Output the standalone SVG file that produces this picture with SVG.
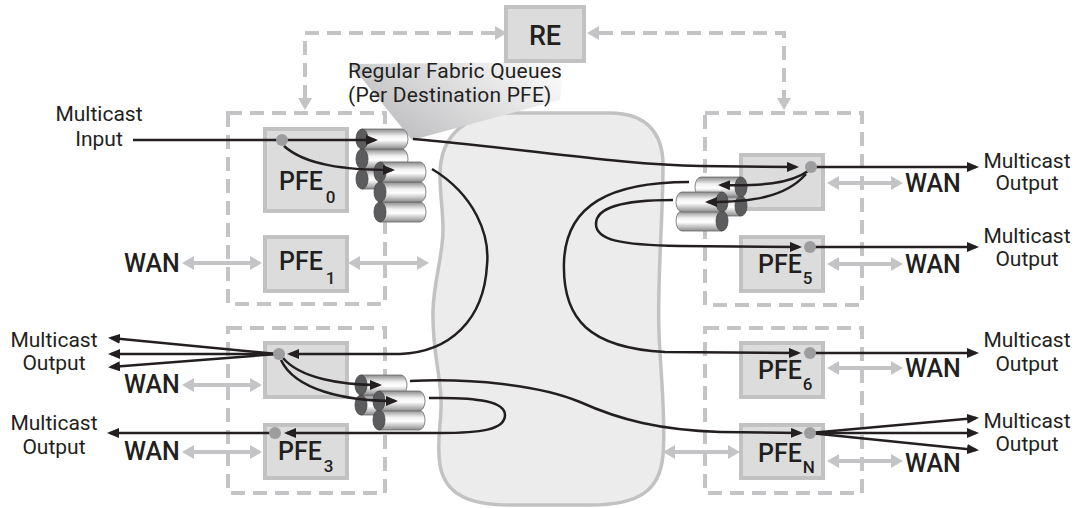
<svg xmlns="http://www.w3.org/2000/svg" width="1082" height="508" viewBox="0 0 1082 508">
<style>
.t{font-family:Roboto,"Liberation Sans",sans-serif;fill:#231f20}
.lbl{font-size:21px;text-anchor:middle}
.q{font-size:21px;letter-spacing:0.2px}
.wan{font-size:25px;font-weight:500}
.pfe{font-size:25px;font-weight:500}
.sub{font-size:17px}
.dash{fill:none;stroke:#c4c4c6;stroke-width:4;stroke-dasharray:14 8}
.ghd{fill:#c4c4c6}
.box{fill:#dcdcdd;stroke:#c2c2c3;stroke-width:4}
.ga{stroke:#c4c4c6;stroke-width:4;fill:none;marker-start:url(#gh);marker-end:url(#gh)}
.bl{stroke:#231f20;stroke-width:2.5;fill:none}
.ar{marker-end:url(#ah)}
.dot{fill:#9d9d9f}
.cb{fill:url(#cylg);stroke:#6a6a6a;stroke-width:0.8}
.cc{fill:#5c5c5e;stroke:#444;stroke-width:0.8}
</style>
<defs>
<marker id="ah" viewBox="0 0 12 10" refX="9" refY="5" markerWidth="12" markerHeight="10" markerUnits="userSpaceOnUse" orient="auto"><path d="M0,0 L12,5 L0,10 Z" fill="#231f20"/></marker>
<marker id="gh" viewBox="0 0 12 14" refX="8" refY="7" markerWidth="12" markerHeight="14" markerUnits="userSpaceOnUse" orient="auto-start-reverse"><path d="M0,0 L12,7 L0,14 Z" fill="#c4c4c6"/></marker>
<linearGradient id="cylg" x1="0" y1="0" x2="0" y2="1">
<stop offset="0" stop-color="#8a8a8c"/><stop offset="0.35" stop-color="#f0f0f0"/><stop offset="0.55" stop-color="#ffffff"/><stop offset="1" stop-color="#8c8c8e"/>
</linearGradient>
<linearGradient id="wedge" x1="0" y1="0.5" x2="1" y2="0">
<stop offset="0" stop-color="#bfbfc1"/><stop offset="0.6" stop-color="#e6e6e7"/><stop offset="1" stop-color="#ffffff"/>
</linearGradient>
<g id="cylL"><path class="cb" d="M6,0 H46 A6,10 0 0 1 46,20 H6 Z"/><ellipse class="cc" cx="6" cy="10" rx="6" ry="10"/></g>
<g id="cylR"><path class="cb" d="M6,0 H46 V20 H6 A6,10 0 0 1 6,0 Z"/><ellipse class="cc" cx="46" cy="10" rx="6" ry="10"/></g>
</defs>
<rect width="1082" height="508" fill="#ffffff"/>

<g id="fabric">
<path d="M 440,175 C 440,135 465,114 510,113 L 610,113 C 648,113 663,135 663,165 C 663,220 657,280 659,333 C 661,380 666,420 663,455 C 660,490 640,505 590,505 L 510,505 C 470,505 445,495 440,465 C 436,440 442,420 441,400 C 440,370 432,350 433,310 C 434,280 443,255 443,230 C 443,210 440,195 440,175 Z" fill="#ececed" stroke="#c2c2c3" stroke-width="3.5"/>
</g>

<g id="callout">
<polygon points="350,64 565,62 560,100 412,140" fill="url(#wedge)"/>
<text class="t q" x="348" y="78">Regular Fabric Queues</text>
<text class="t q" x="348" y="102">(Per Destination PFE)</text>
</g>

<g id="re-links">
<path class="dash" d="M 495,33 H 305 V 98"/>
<polygon class="ghd" points="495,26 507,33 495,40"/>
<polygon class="ghd" points="298,98 305,110 312,98"/>
<path class="dash" d="M 599,33 H 784 V 98"/>
<polygon class="ghd" points="599,26 587,33 599,40"/>
<polygon class="ghd" points="777,98 784,110 791,98"/>
</g>

<g id="re"><rect class="box" x="506" y="7" width="78" height="54" fill="#d2d2d3"/><text class="t" x="545" y="45" font-size="27" font-weight="500" text-anchor="middle">RE</text></g>

<g id="groups">
<rect class="dash" x="228" y="113" width="157" height="191"/>
<rect class="dash" x="228" y="328" width="157" height="165"/>
<rect class="dash" x="705" y="113" width="157" height="192"/>
<rect class="dash" x="705" y="328" width="157" height="165"/>
</g>

<g id="pfe0"><rect class="box" x="265" y="129" width="82" height="82"/><text class="t pfe" x="279" y="190">PFE<tspan class="sub" dx="3" dy="13">0</tspan></text></g>
<g id="pfe1"><rect class="box" x="265" y="237" width="82" height="54"/><text class="t pfe" x="279" y="270">PFE<tspan class="sub" dx="3" dy="14">1</tspan></text></g>
<g id="pfe2"><rect class="box" x="265" y="343" width="82" height="54"/></g>
<g id="pfe3"><rect class="box" x="265" y="425" width="82" height="53"/><text class="t pfe" x="278" y="460">PFE<tspan class="sub" dx="2" dy="12">3</tspan></text></g>
<g id="pfe4"><rect class="box" x="741" y="155" width="82" height="54"/></g>
<g id="pfe5"><rect class="box" x="741" y="237" width="82" height="54"/><text class="t pfe" x="758" y="273">PFE<tspan class="sub" dx="1" dy="11">5</tspan></text></g>
<g id="pfe6"><rect class="box" x="741" y="343" width="82" height="54"/><text class="t pfe" x="758" y="379">PFE<tspan class="sub" dx="1" dy="11">6</tspan></text></g>
<g id="pfeN"><rect class="box" x="741" y="425" width="82" height="53"/><text class="t pfe" x="758" y="462">PFE<tspan class="sub" dx="1" dy="11">N</tspan></text></g>

<g id="wan-links">
<line class="ga" x1="186" y1="263" x2="258" y2="263"/>
<line class="ga" x1="352" y1="263" x2="425" y2="263"/>
<line class="ga" x1="186" y1="385" x2="258" y2="385"/>
<line class="ga" x1="186" y1="452" x2="258" y2="452"/>
<line class="ga" x1="831" y1="183" x2="899" y2="183"/>
<line class="ga" x1="831" y1="264" x2="899" y2="264"/>
<line class="ga" x1="831" y1="368" x2="899" y2="368"/>
<line class="ga" x1="831" y1="461" x2="899" y2="461"/>
<line class="ga" x1="667" y1="452" x2="736" y2="452"/>
</g>

<g id="wan-labels">
<text class="t wan" x="124" y="272">WAN</text>
<text class="t wan" x="124" y="393">WAN</text>
<text class="t wan" x="124" y="460">WAN</text>
<text class="t wan" x="905" y="192">WAN</text>
<text class="t wan" x="905" y="273">WAN</text>
<text class="t wan" x="905" y="377">WAN</text>
<text class="t wan" x="905" y="472">WAN</text>
</g>

<g id="queues-pfe0">
<use href="#cylL" x="356" y="169"/><use href="#cylL" x="356" y="149"/><use href="#cylL" x="356" y="129"/>
<use href="#cylL" x="374" y="202"/><use href="#cylL" x="374" y="182"/><use href="#cylL" x="374" y="162"/>
</g>
<g id="queues-pfe2">
<use href="#cylL" x="355" y="395"/><use href="#cylL" x="355" y="375"/>
<use href="#cylL" x="373" y="410"/><use href="#cylL" x="373" y="391"/>
</g>
<g id="queues-pfe4">
<use href="#cylR" x="695" y="196"/><use href="#cylR" x="695" y="177"/>
<use href="#cylR" x="676" y="211"/><use href="#cylR" x="676" y="192"/>
</g>

<g id="connectors">
<path class="bl ar" d="M 133,140 H 375"/>
<path class="bl ar" d="M 284,146 C 305,165 345,170 392,170"/>
<path class="bl ar" d="M 413,139 C 520,148 620,165 700,166 L 796,167"/>
<path class="bl ar" d="M 432,169 C 475,195 490,235 487,265 C 484,320 450,352 400,354 L 290,354"/>
<path class="bl ar" d="M 283,358 C 300,378 340,385 379,385"/>
<path class="bl ar" d="M 281,360 C 295,390 345,401 395,401"/>
<path class="bl ar" d="M 410,381 C 470,378 540,385 580,402 C 620,420 660,430 720,432 L 800,433"/>
<path class="bl ar" d="M 429,398 C 480,397 505,402 505,415 C 505,430 480,433 440,433 L 287,433"/>
<path class="bl ar" d="M 272,433 L 110,433"/>
<path class="bl ar" d="M 277,354 L 111,338"/>
<path class="bl ar" d="M 277,354 L 111,354"/>
<path class="bl ar" d="M 277,354 L 111,367"/>
<path class="bl ar" d="M 813,167 L 976,167"/>
<path class="bl ar" d="M 808,171 C 790,184 760,186 721,185"/>
<path class="bl ar" d="M 806,174 C 785,198 750,202 708,202"/>
<path class="bl ar" d="M 689,182 C 610,182 566,205 564,262 C 562,320 590,348 665,352 L 798,353"/>
<path class="bl ar" d="M 673,200 C 620,200 596,208 596,224 C 596,240 620,245 680,246 L 799,247"/>
<path class="bl ar" d="M 810,247 L 976,247"/>
<path class="bl ar" d="M 810,353 L 976,353"/>
<path class="bl ar" d="M 810,433 L 976,418"/>
<path class="bl ar" d="M 810,433 L 976,433"/>
<path class="bl ar" d="M 810,433 L 976,450"/>
</g>

<g id="dots">
<circle class="dot" cx="282" cy="140" r="6"/>
<circle class="dot" cx="279" cy="354" r="6"/>
<circle class="dot" cx="275" cy="433" r="6"/>
<circle class="dot" cx="811" cy="167" r="6"/>
<circle class="dot" cx="810" cy="247" r="6"/>
<circle class="dot" cx="810" cy="353" r="6"/>
<circle class="dot" cx="810" cy="433" r="6"/>
</g>

<g id="io-labels">
<text class="t lbl" x="99" y="121">Multicast</text>
<text class="t lbl" x="99" y="146">Input</text>
<text class="t lbl" x="54" y="347">Multicast</text>
<text class="t lbl" x="54" y="370">Output</text>
<text class="t lbl" x="54" y="430">Multicast</text>
<text class="t lbl" x="54" y="454">Output</text>
<text class="t lbl" x="1027" y="168">Multicast</text>
<text class="t lbl" x="1027" y="190">Output</text>
<text class="t lbl" x="1027" y="243">Multicast</text>
<text class="t lbl" x="1027" y="266">Output</text>
<text class="t lbl" x="1027" y="347">Multicast</text>
<text class="t lbl" x="1027" y="371">Output</text>
<text class="t lbl" x="1027" y="428">Multicast</text>
<text class="t lbl" x="1027" y="451">Output</text>
</g>
</svg>
